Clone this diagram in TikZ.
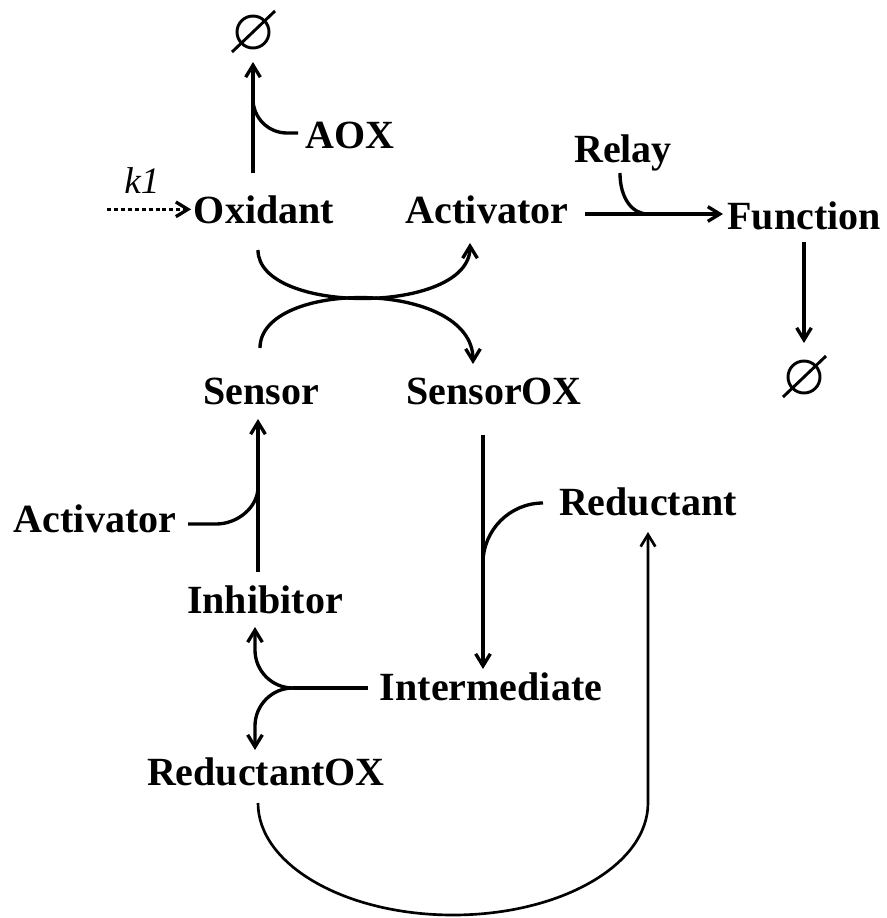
\documentclass[tikz,border=0pt]{standalone}
\usepackage{fontspec}
\setmainfont{Liberation Serif}
\usetikzlibrary{arrows.meta,calc}
\begin{document}
\begin{tikzpicture}[x=0.75pt,y=0.75pt,
  lbl/.style={font=\fontsize{30}{36}\selectfont\bfseries, inner sep=0pt, anchor=base},
  ratelbl/.style={font=\fontsize{28}{34}\selectfont\itshape, inner sep=0pt, anchor=base},
  nullset/.style={circle, draw, line width=2.2pt, minimum size=24pt, inner sep=0pt},
  conn/.style={line width=2.5pt},
  arr/.style={conn, -{Straight Barb[length=9pt,width=11pt]}},
  dotarr/.style={arr, dash pattern=on 3pt off 2.2pt},
]
\useasboundingbox (0,0) rectangle (886,-918);

% species
\node[lbl] (ox)    at (264,-223) {Oxidant};
\node[lbl] (act)   at (487,-223) {Activator};
\node[lbl] (fun)   at (804,-229) {Function};
\node[lbl] (aox)   at (350,-148) {AOX};
\node[lbl] (relay) at (623,-162) {Relay};
\node[ratelbl] (k1) at (142,-193) {k1};
\node[lbl] (sen)   at (261,-404) {Sensor};
\node[lbl] (senox) at (494,-404) {SensorOX};
\node[lbl] (act2)  at (95,-532)  {Activator};
\node[lbl] (red)   at (648,-515) {Reductant};
\node[lbl] (inh)   at (265,-613) {Inhibitor};
\node[lbl] (int)   at (491,-700) {Intermediate};
\node[lbl] (redox) at (266,-785) {ReductantOX};

% sinks (empty set)
\node[nullset] (e1) at (253,-32) {};
\draw[line width=2.2pt] ($(e1)+(-21,-20)$) -- ($(e1)+(22,21)$);
\node[nullset] (e2) at (804,-377) {};
\draw[line width=2.2pt] ($(e2)+(-21,-20)$) -- ($(e2)+(22,21)$);

% oxidant supply and removal
\coordinate (k1src) at (107,0);
\draw[dotarr, shorten >=2pt] (ox.west -| k1src) -- (ox.west);
\draw[arr] ($(ox.base)+(-11,50)$) -- ($(e1)+(0,-30)$);
\draw[conn] ($(aox.base)+(-52,15)$) -- ++(-11,0) arc[start angle=270, end angle=180, radius=34];

% oxidant / sensor exchange
\draw[arr] ($(ox.base)+(-6,-27)$) .. controls +(0,-65) and +(0,-72) .. ($(act.base)+(-17,-20)$);
\draw[arr] ($(sen.base)+(-1,56)$) .. controls +(0,69) and +(0,85) .. ($(senox.base)+(-21,40)$);

% activator drives function via relay
\draw[arr] ($(act.base)+(98,9)$) -- ($(fun.base)+(-81,15)$);
\draw[conn] ($(relay.base)+(-3,-11)$) .. controls +(0,-25) and +(-16,0) .. ($(act.base)+(161,9)$);
\draw[arr] ($(fun.base)+(0,-13)$) -- ($(e2)+(0,34)$);

% inhibitor restores the sensor, helped by the activator
\draw[arr] ($(inh.base)+(-7,41)$) -- ($(sen.base)+(-3,-15)$);
\draw[conn] ($(act2.base)+(93,8)$) -- ++(28,0) .. controls +(22,0) and +(0,-20) .. ($(inh.base)+(-7,126)$);

% oxidised sensor reduced to the intermediate
\draw[arr] ($(senox.base)+(-11,-31)$) -- ($(int.base)+(-8,31)$);
\draw[conn] ($(red.base)+(-105,12)$) .. controls +(-33,0) and +(0,33) .. ($(senox.base)+(-11,-159)$);

% intermediate splits
\coordinate (fork) at ($(int.base)+(-198,12)$);
\draw[conn] ($(int.base)+(-123,12)$) -- (fork);
\draw[arr] (fork) arc[start angle=270, end angle=180, radius=38] -- ($(inh.base)+(-10,-14)$);
\draw[arr] (fork) arc[start angle=90, end angle=180, radius=38] -- ($(redox.base)+(-11,35)$);

% reductant regeneration
\draw[arr, line width=2pt] ($(redox.base)+(-8,-18)$)
  arc[start angle=180, end angle=360, x radius=195, y radius=112]
  -- ($(red.base)+(0,-17)$);
\end{tikzpicture}
\end{document}
